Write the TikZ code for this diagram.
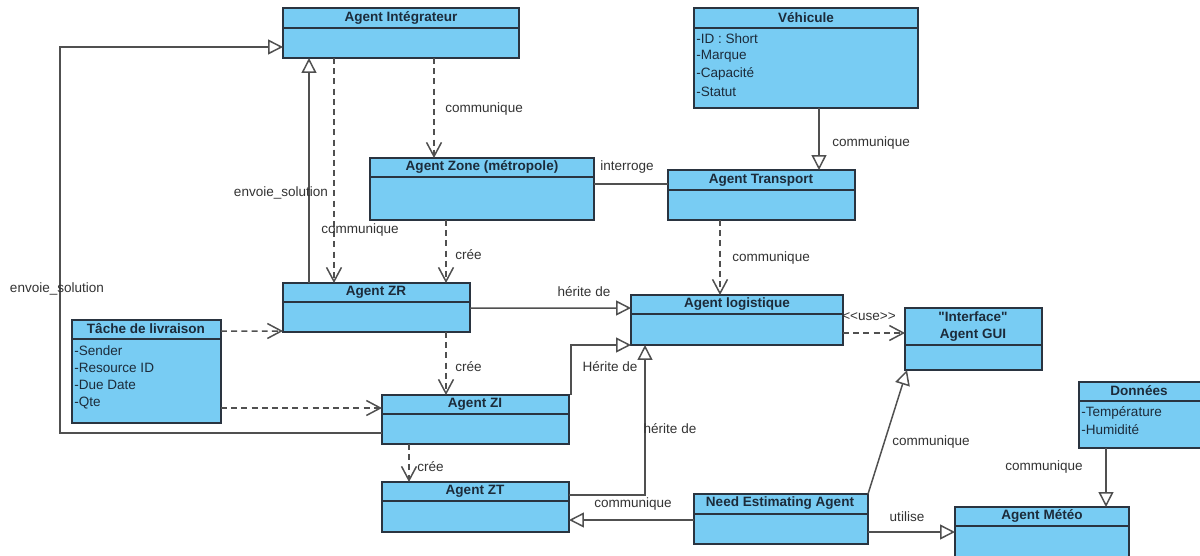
\documentclass[tikz,border=0pt]{standalone}
\usepackage{fontspec}
\setmainfont{Liberation Sans}
\usetikzlibrary{arrows.meta,calc,fit}
\definecolor{boxfill}{HTML}{78CCF3}
\definecolor{boxline}{HTML}{2A3440}
\definecolor{txtc}{HTML}{1C2B3A}
\definecolor{linec}{HTML}{505050}
\definecolor{lblc}{HTML}{333333}
\tikzset{
  cls/.style={draw=boxline, fill=boxfill, line width=0.9pt, inner sep=0pt, outer sep=0pt},
  sepline/.style={draw=boxline, line width=0.9pt},
  title/.style={font=\fontsize{7.7}{9.2}\selectfont\bfseries, text=txtc, inner sep=0pt},
  attr/.style={font=\fontsize{7.7}{9.2}\selectfont, text=txtc, inner sep=0pt, anchor=west},
  lbl/.style={font=\fontsize{7.7}{9.2}\selectfont, text=lblc, inner sep=0pt},
  gen/.style={draw=linec, line width=0.85pt, -{Triangle[open, length=8.5pt, width=8.5pt, fill=white]}},
  dep/.style={draw=linec, line width=0.85pt, dash pattern=on 3.4pt off 2.4pt, -{Straight Barb[length=8pt, width=8.5pt]}},
  assoc/.style={draw=linec, line width=0.85pt},
}
\begin{document}
\begin{tikzpicture}[x=0.02cm, y=-0.02cm]
\useasboundingbox (0,0) rectangle (1200,555);
\clip (0,0) rectangle (1200,555);
\fill[white] (0,0) rectangle (1200,555);

% ---- classes ----
\node[cls, fit={(283,8) (519,58)}] (int) {};
\draw[sepline] ($(int.north west)+(0,20)$) -- ($(int.north east)+(0,20)$);
\node[title] (intT) at (401,18) {Agent Intégrateur};

\node[cls, fit={(694,8) (918,108)}] (veh) {};
\draw[sepline] ($(veh.north west)+(0,20)$) -- ($(veh.north east)+(0,20)$);
\node[title] (vehT) at (806,18) {Véhicule};
\node[attr] (veh1) at (696,39) {-ID : Short};
\node[attr] (veh2) at (696,56) {-Marque};
\node[attr] (veh3) at (696,74) {-Capacité};
\node[attr] (veh4) at (696,92) {-Statut};

\node[cls, fit={(370,158) (594,220)}] (zone) {};
\draw[sepline] ($(zone.north west)+(0,19)$) -- ($(zone.north east)+(0,19)$);
\node[title] (zoneT) at (482,167) {Agent Zone (métropole)};

\node[cls, fit={(668,170) (855,220)}] (trans) {};
\draw[sepline] ($(trans.north west)+(0,20)$) -- ($(trans.north east)+(0,20)$);
\node[title] (transT) at (761,180) {Agent Transport};

\node[cls, fit={(283,283) (470,332)}] (zr) {};
\draw[sepline] ($(zr.north west)+(0,19)$) -- ($(zr.north east)+(0,19)$);
\node[title] (zrT) at (376,292) {Agent ZR};

\node[cls, fit={(72,320) (221,423)}] (tache) {};
\draw[sepline] ($(tache.north west)+(0,19)$) -- ($(tache.north east)+(0,19)$);
\node[title] (tacheT) at (146,329) {Tâche de livraison};
\node[attr] (ta1) at (74,351) {-Sender};
\node[attr] (ta2) at (74,368) {-Resource ID};
\node[attr] (ta3) at (74,385) {-Due Date};
\node[attr] (ta4) at (74,403) {-Qte};

\node[cls, fit={(631,295) (843,345)}] (log) {};
\draw[sepline] ($(log.north west)+(0,19)$) -- ($(log.north east)+(0,19)$);
\node[title] (logT) at (737,304) {Agent logistique};

\node[cls, fit={(905,308) (1042,370)}] (gui) {};
\draw[sepline] ($(gui.north west)+(0,37)$) -- ($(gui.north east)+(0,37)$);
\node[title] (guiT1) at (973,317) {\textquotedbl Interface\textquotedbl};
\node[title] (guiT2) at (973,335) {Agent GUI};

\node[cls, fit={(382,395) (569,444)}] (zi) {};
\draw[sepline] ($(zi.north west)+(0,19)$) -- ($(zi.north east)+(0,19)$);
\node[title] (ziT) at (475,404) {Agent ZI};

\node[cls, fit={(382,482) (569,532)}] (zt) {};
\draw[sepline] ($(zt.north west)+(0,19)$) -- ($(zt.north east)+(0,19)$);
\node[title] (ztT) at (475,491) {Agent ZT};

\node[cls, fit={(694,494) (868,544)}] (nea) {};
\draw[sepline] ($(nea.north west)+(0,20)$) -- ($(nea.north east)+(0,20)$);
\node[title] (neaT) at (780,503) {Need Estimating Agent};

\node[cls, fit={(1079,382) (1210,448)}] (don) {};
\draw[sepline] ($(don.north west)+(0,19)$) -- ($(don.north east)+(0,19)$);
\node[title] (donT) at (1139,391) {Données};
\node[attr] (don1) at (1081,413) {-Température};
\node[attr] (don2) at (1081,430) {-Humidité};

\node[cls, fit={(955,507) (1129,565)}] (met) {};
\draw[sepline] ($(met.north west)+(0,19)$) -- ($(met.north east)+(0,19)$);
\node[title] (metT) at (1042,516) {Agent Météo};

% ---- connectors ----
\coordinate (lc) at (60,47);
\draw[gen] ($(zi.south west)+(0,-11)$) -| (lc) -- (lc -| int.west);
\node[lbl] (l1) at (57,289) {envoie\_solution};

\draw[gen] ($(zr.north west)+(26,0)$) -- ($(int.south west)+(26,0)$);
\node[lbl] (l2) at (281,193) {envoie\_solution};

\draw[dep] ($(int.south west)+(51,0)$) -- ($(zr.north west)+(51,0)$);
\node[lbl] (l3) at (360,230) {communique};

\draw[dep] ($(int.south west)+(151,0)$) -- ($(zone.north west)+(64,0)$);
\node[lbl, anchor=west] (l4) at (445,109) {communique};

\draw[dep] ($(zone.south west)+(76,0)$) -- ($(zr.north west)+(163,0)$);
\node[lbl, anchor=west] (l5) at (455,255) {crée};

\draw[assoc] ($(zone.north east)+(0,26)$) -- ($(trans.north west)+(0,14)$);
\node[lbl] (l6) at (627,167) {interroge};

\draw[gen] ($(veh.south west)+(125,0)$) -- ($(trans.north west)+(151,0)$);
\node[lbl, anchor=west] (l7) at (832,143) {communique};

\draw[dep] ($(trans.south west)+(52,0)$) -- ($(log.north west)+(89,0)$);
\node[lbl, anchor=west] (l8) at (732,258) {communique};

\draw[gen] ($(zr.north east)+(0,25)$) -- ($(log.north west)+(0,13)$);
\node[lbl] (l9) at (584,292) {hérite de};

\draw[dep] ($(tache.north east)+(0,11)$) -- ($(zr.south west)+(0,-1)$);
\draw[dep] ($(tache.north east)+(0,88)$) -- ($(zi.north west)+(0,13)$);

\draw[dep] ($(zr.south west)+(163,0)$) -- ($(zi.north west)+(64,0)$);
\node[lbl, anchor=west] (l10) at (455,367) {crée};

\draw[gen] ($(zi.north east)+(2,0)$) |- (log.south west);
\node[lbl] (l11) at (610,367) {Hérite de};

\draw[gen] ($(zt.north east)+(0,13)$) -| ($(log.south west)+(14,0)$);
\node[lbl] (l12) at (670,429) {hérite de};

\draw[dep] ($(zi.south west)+(27,0)$) -- ($(zt.north west)+(27,0)$);
\node[lbl, anchor=west] (l13) at (417,467) {crée};

\draw[gen] ($(nea.north west)+(0,26)$) -- ($(zt.north east)+(0,38)$);
\node[lbl] (l14) at (633,504) {communique};

\draw[gen] (nea.north east) -- ($(gui.south west)+(2,0)$);
\node[lbl] (l15) at (931,442) {communique};

\draw[gen] ($(nea.north east)+(0,38)$) -- ($(met.north west)+(0,25)$);
\node[lbl] (l16) at (907,517) {utilise};

\draw[gen] ($(don.south west)+(27,0)$) -- ($(met.north west)+(151,0)$);
\node[lbl] (l17) at (1044,467) {communique};

\draw[dep] ($(log.north east)+(0,38)$) -- ($(gui.north west)+(0,25)$);
\node[lbl] (l18) at (869,317) {<{}<use>{}>};
\end{tikzpicture}
\end{document}
